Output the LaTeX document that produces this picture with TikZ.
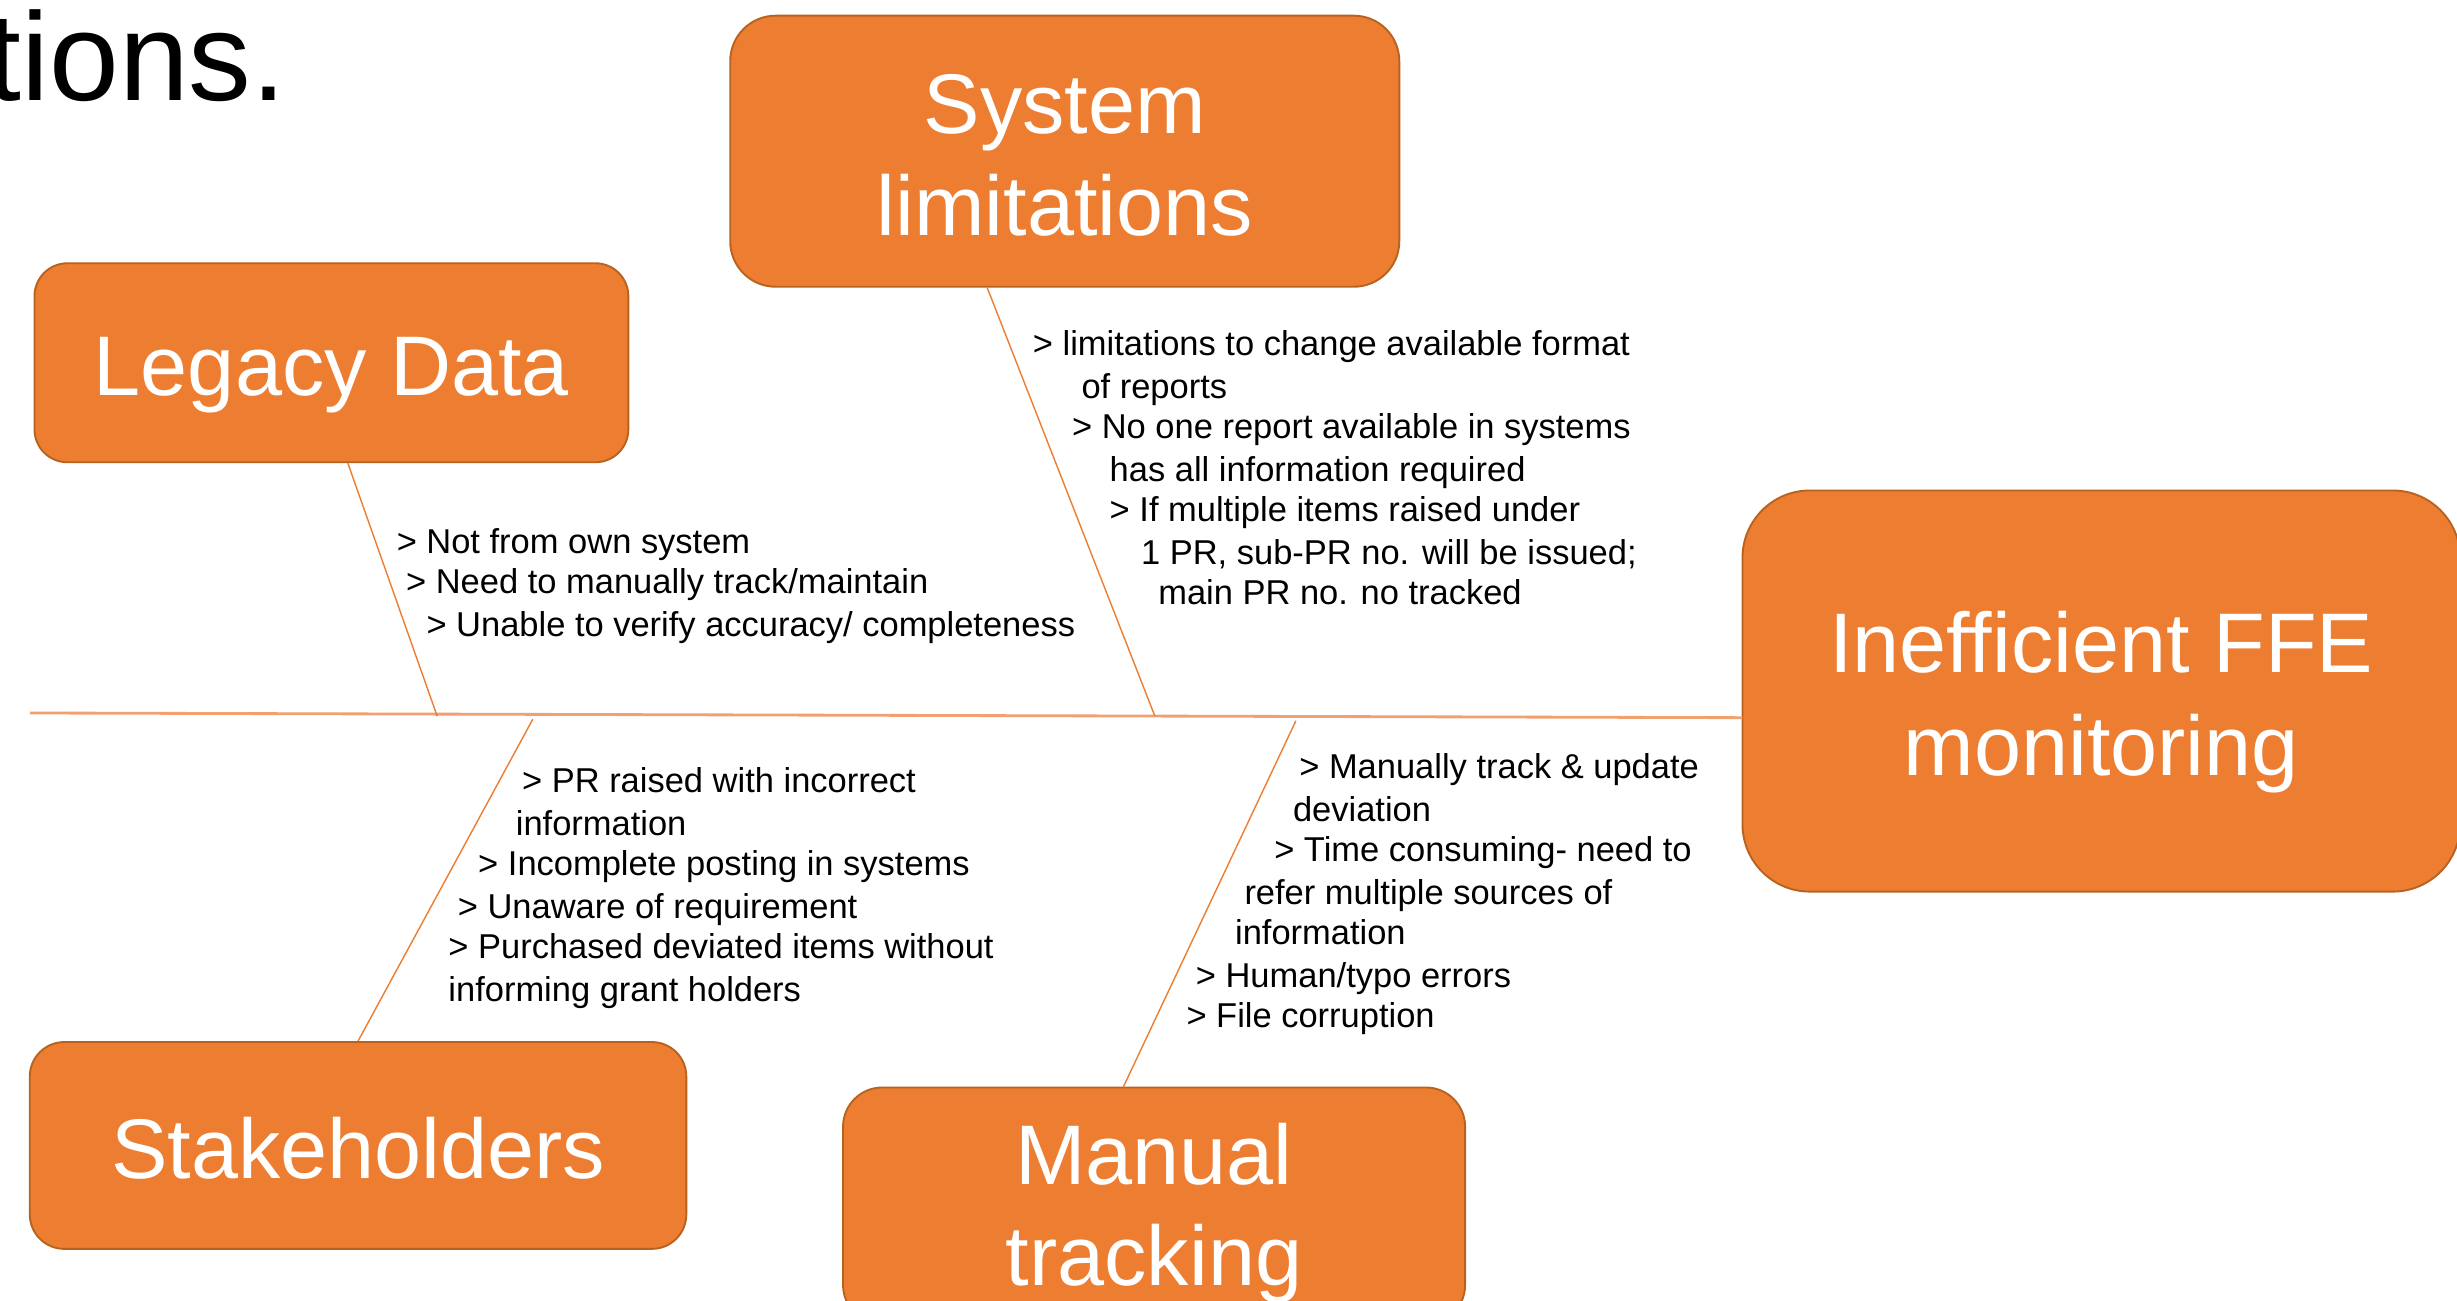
\documentclass[tikz,border=0pt]{standalone}
\usepackage{fontspec}
\setmainfont{Liberation Sans}
\definecolor{orng}{HTML}{ED7D31}
\definecolor{orngdark}{HTML}{B8621F}
\definecolor{spinec}{HTML}{F1A070}
\begin{document}
\begin{tikzpicture}[x=1pt,y=-1pt,
  box/.style={draw=orngdark, line width=1.2pt, fill=orng, inner sep=0pt},
  boxtext/.style={anchor=base, inner sep=0pt, text=white, font=\fontsize{54}{65}\selectfont},
  bone/.style={draw=orng, line width=0.9pt},
  spine/.style={draw=spinec, line width=1.8pt},
  note/.style={anchor=base west, inner sep=0pt, font=\fontsize{22}{26.5}\selectfont}]
\clip (0,0) rectangle (1568,830);
\useasboundingbox (0,0) rectangle (1568,830);
% title fragment
\node[anchor=base east, inner sep=0pt, font=\fontsize{80}{90}\selectfont] (title) at (183,64) {tions.};
% boxes
\node[box, rounded corners=29pt, minimum width=427pt, minimum height=173pt] (system) at (679.5,96.5) {};
\node[box, rounded corners=21pt, minimum width=379pt, minimum height=127pt] (legacy) at (211.5,231.5) {};
\node[box, rounded corners=43pt, minimum width=458pt, minimum height=256pt] (ffe) at (1341,441) {};
\node[box, rounded corners=22pt, minimum width=419pt, minimum height=132pt] (stake) at (228.5,731) {};
\node[box, rounded corners=25pt, minimum width=397pt, minimum height=151pt] (manual) at (736.5,769.5) {};
% box texts
\node[boxtext] (systemA) at (system.center |- 0,85.5) {System};
\node[boxtext] (systemB) at (system.center |- 0,150.6) {limitations};
\node[boxtext] (legacyA) at (legacy.center |- 0,252.3) {Legacy Data};
\node[boxtext] (ffeA) at (ffe.center |- 0,429.3) {Inefficient FFE};
\node[boxtext] (ffeB) at (ffe.center |- 0,494.6) {monitoring};
\node[boxtext] (stakeA) at (stake.center |- 0,752) {Stakeholders};
\node[boxtext] (manualA) at (manual.center |- 0,756.2) {Manual};
\node[boxtext] (manualB) at (manual.center |- 0,820.5) {tracking};
% spine
\coordinate (spineL) at (19,455);
\coordinate (spineR) at (1112,458);
\coordinate (jLegacy) at (279,457);
\coordinate (jSystem) at (737,457);
\coordinate (jStake) at (340,459);
\coordinate (jManual) at (827,460);
\draw[spine] (spineL) -- (spineR);
% bones
\draw[bone] ([xshift=10.5pt]legacy.south) -- (jLegacy);
\draw[bone] ([xshift=-49.5pt]system.south) -- (jSystem);
\draw[bone] (stake.north) -- (jStake);
\draw[bone] ([xshift=-19.5pt]manual.north) -- (jManual);
% legacy notes
\node[note] (l1) at (253,353) {> Not from own system};
\node[note] (l2) at (259,379) {> Need to manually track/maintain};
\node[note] (l3) at (272,406) {> Unable to verify accuracy/ completeness};
% system notes
\node[note] (s1) at (659,227) {> limitations to change available format};
\node[note] (s2) at (690,254) {of reports};
\node[note] (s3) at (684,280) {> No one report available in systems};
\node[note] (s4) at (708,307) {has all information required};
\node[note] (s5) at (708,333) {> If multiple items raised under};
\node[note] (s6) at (728,360) {1 PR, sub-PR no. will be issued;};
\node[note] (s7) at (739,386) {main PR no. no tracked};
% stakeholder notes
\node[note] (k1) at (333,506) {> PR raised with incorrect};
\node[note] (k2) at (329,533) {information};
\node[note] (k3) at (305,559) {> Incomplete posting in systems};
\node[note] (k4) at (292,586) {> Unaware of requirement};
\node[note] (k5) at (286,612) {> Purchased deviated items without};
\node[note] (k6) at (286,639) {informing grant holders};
% manual notes
\node[note] (m1) at (829,497) {> Manually track \& update};
\node[note] (m2) at (825,524) {deviation};
\node[note] (m3) at (813,550) {> Time consuming- need to};
\node[note] (m4) at (794,577) {refer multiple sources of};
\node[note] (m5) at (788,603) {information};
\node[note] (m6) at (763,630) {> Human/typo errors};
\node[note] (m7) at (757,656) {> File corruption};
\end{tikzpicture}
\end{document}
